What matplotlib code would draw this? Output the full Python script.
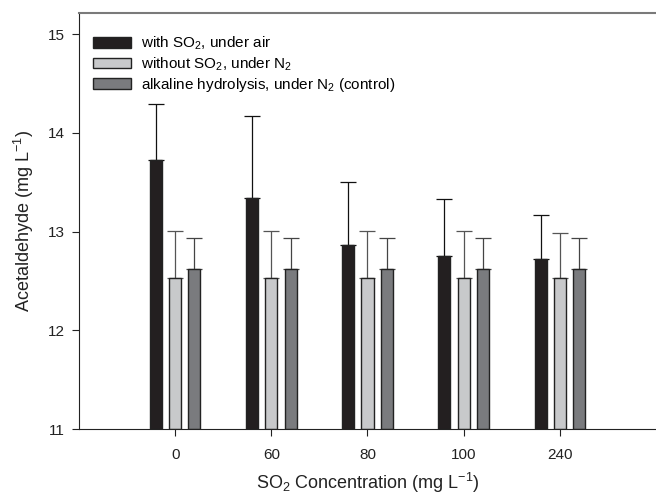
import numpy as np
import matplotlib.pyplot as plt

plt.rcParams['font.family'] = ['Liberation Sans', 'DejaVu Sans']
plt.rcParams['mathtext.fontset'] = 'custom'
plt.rcParams['mathtext.rm'] = 'Liberation Sans'
plt.rcParams['mathtext.it'] = 'Liberation Sans:italic'
plt.rcParams['mathtext.default'] = 'regular'

categories = ['0', '60', '80', '100', '240']
with_so2 = [13.73, 13.34, 12.86, 12.75, 12.72]
with_so2_err = [0.56, 0.83, 0.64, 0.58, 0.45]
without_so2 = [12.53, 12.53, 12.53, 12.53, 12.53]
without_so2_err = [0.48, 0.48, 0.48, 0.48, 0.46]
alkaline = [12.62, 12.62, 12.62, 12.62, 12.62]
alkaline_err = [0.32, 0.32, 0.32, 0.32, 0.32]

labels = ['with SO$_2$, under air',
          'without SO$_2$, under N$_2$',
          'alkaline hydrolysis, under N$_2$ (control)']

fig = plt.figure(figsize=(6.56, 4.96), dpi=100)
ax = fig.add_axes([0.1204, 0.135, 0.8796, 0.8378])

x = np.arange(len(categories))
w = 0.125
series = [(with_so2, with_so2_err, '#231f20', '#111111'),
          (without_so2, without_so2_err, '#c8c9cb', '#555555'),
          (alkaline, alkaline_err, '#7a7b7e', '#444444')]
offsets = [-0.2, 0.0, 0.2]
for (vals, errs, col, ecol), off, lab in zip(series, offsets, labels):
    ax.bar(x + off, np.array(vals) - 11, w, bottom=11, color=col,
           edgecolor='#222222', linewidth=1.0, label=lab, zorder=2)
    ax.errorbar(x + off, vals, yerr=[np.zeros(len(errs)), errs], fmt='none',
                ecolor=ecol, elinewidth=0.9, capsize=5.8, capthick=0.9, zorder=1)

ax.set_xlim(-1, 5)
ax.set_ylim(11, 15.21)
ax.set_xticks(x)
ax.set_xticklabels(categories)
ax.set_yticks([11, 12, 13, 14, 15])
ax.tick_params(axis='both', direction='out', length=5, width=0.8,
               labelsize=11, colors='#222222', pad=5)
ax.tick_params(axis='x', pad=9)

ax.spines['right'].set_visible(False)
ax.spines['top'].set_color('#7a7a7a')
ax.spines['top'].set_linewidth(1.5)
ax.spines['left'].set_color('#222222')
ax.spines['bottom'].set_color('#222222')

ax.set_ylabel('Acetaldehyde (mg L$^{-1}$)', fontsize=13, color='#222222', labelpad=9)
ax.set_xlabel('SO$_2$ Concentration (mg L$^{-1}$)', fontsize=13, color='#222222', labelpad=6)

ax.legend(loc='upper left', bbox_to_anchor=(0.006, 0.975), frameon=False,
          fontsize=11, handlelength=2.5, handleheight=0.72, handletextpad=0.65,
          labelspacing=0.22, borderaxespad=0.3)

fig.savefig('out.png', dpi=100)
